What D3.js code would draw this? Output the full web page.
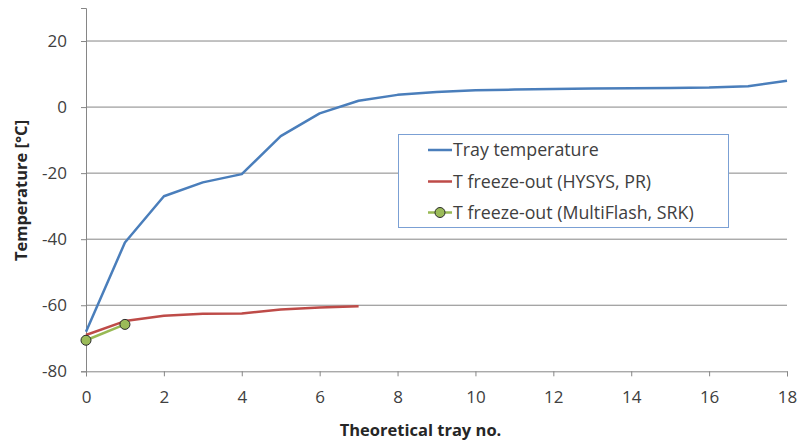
<!DOCTYPE html>
<html><head><meta charset="utf-8">
<script src="https://cdnjs.cloudflare.com/ajax/libs/d3/7.8.5/d3.min.js"></script>
<style>body{margin:0;background:#fff}svg{display:block}</style>
</head><body><svg id="c" width="801" height="445"></svg>
<script>
const trays = [0,1,2,3,4,5,6,7,8,9,10,11,12,13,14,15,16,17,18];
const trayTemp = [-68,-41,-27,-22.8,-20.3,-8.8,-1.9,1.9,3.7,4.6,5.1,5.3,5.5,5.6,5.7,5.8,5.9,6.3,8.0];
const hysysTrays = [0,1,2,3,4,5,6,7];
const hysysTemp = [-69,-64.8,-63.2,-62.6,-62.5,-61.3,-60.7,-60.3];
const mfTrays = [0,1];
const mfTemp = [-70.6,-65.8];
const xTicks = [0,2,4,6,8,10,12,14,16,18];
const yTicks = [-80,-60,-40,-20,0,20];
const seriesNames = ["Tray temperature","T freeze-out (HYSYS, PR)","T freeze-out (MultiFlash, SRK)"];
const colors = ["#4a7ebb","#be4b48","#98b954"];

const svg = d3.select("#c");
const font = "'Open Sans', 'Noto Sans', sans-serif";
const x = d3.scaleLinear().domain([0,18]).range([86,787]);
const y = d3.scaleLinear().domain([-80,30]).range([371.3,8]);

// gridlines
svg.append("g").selectAll("line").data(yTicks.filter(d=>d>-80)).join("line")
  .attr("x1",86).attr("x2",787).attr("y1",d=>y(d)).attr("y2",d=>y(d))
  .attr("stroke","#868686").attr("stroke-width",1);

// axes
const xa = svg.append("g").attr("transform",`translate(0,${y(-80)})`)
  .call(d3.axisBottom(x).tickValues(xTicks).tickSize(5).tickPadding(15));
const ya = svg.append("g").attr("transform",`translate(${x(0)},0)`)
  .call(d3.axisLeft(y).tickValues(yTicks).tickSize(5).tickPadding(14));
[xa,ya].forEach(a=>{
  a.select(".domain").attr("stroke","#868686");
  a.selectAll(".tick line").attr("stroke","#868686");
  a.selectAll("text").attr("font-family",font).attr("font-size",17).attr("fill","#404040");
});
ya.selectAll("text").text(d=>d<0?"-"+Math.abs(d):d);

const line = d3.line().x(d=>x(d[0])).y(d=>y(d[1]));
svg.append("path").datum(trays.map((t,i)=>[t,trayTemp[i]]))
  .attr("d",line).attr("fill","none").attr("stroke",colors[0]).attr("stroke-width",2.5).attr("stroke-linejoin","round");
svg.append("path").datum(hysysTrays.map((t,i)=>[t,hysysTemp[i]]))
  .attr("d",line).attr("fill","none").attr("stroke",colors[1]).attr("stroke-width",2.5).attr("stroke-linejoin","round");
const mf = mfTrays.map((t,i)=>[t,mfTemp[i]]);
svg.append("path").datum(mf)
  .attr("d",line).attr("fill","none").attr("stroke",colors[2]).attr("stroke-width",2.5);
svg.append("g").selectAll("circle").data(mf).join("circle")
  .attr("cx",d=>x(d[0])).attr("cy",d=>y(d[1])).attr("r",5)
  .attr("fill","#9bbb59").attr("stroke","#2a2a2a").attr("stroke-width",1);

// legend
const lg = svg.append("g");
lg.append("rect").attr("x",398.5).attr("y",134.5).attr("width",330).attr("height",93)
  .attr("fill","#fff").attr("stroke","#7ba0d4").attr("stroke-width",1);
const rows = [150,181.5,212.5];
seriesNames.forEach((n,i)=>{
  lg.append("line").attr("x1",428).attr("x2",452).attr("y1",rows[i]).attr("y2",rows[i])
    .attr("stroke",colors[i]).attr("stroke-width",2.5);
  if(i===2) lg.append("circle").attr("cx",440).attr("cy",rows[i]).attr("r",5)
    .attr("fill","#9bbb59").attr("stroke","#2a2a2a").attr("stroke-width",1);
  lg.append("text").attr("x",453).attr("y",rows[i]).attr("dy","0.35em")
    .attr("font-family",font).attr("font-size",17.8).attr("fill","#404040").text(n);
});

// axis titles
svg.append("text").attr("x",420.5).attr("y",436).attr("text-anchor","middle")
  .attr("font-family",font).attr("font-size",16.5).attr("font-weight","bold").attr("fill","#262626")
  .text("Theoretical tray no.");
svg.append("text").attr("transform","translate(27,190.5) rotate(-90)").attr("text-anchor","middle")
  .attr("font-family",font).attr("font-size",16.5).attr("font-weight","bold").attr("fill","#262626")
  .text("Temperature [°C]");
</script></body></html>
